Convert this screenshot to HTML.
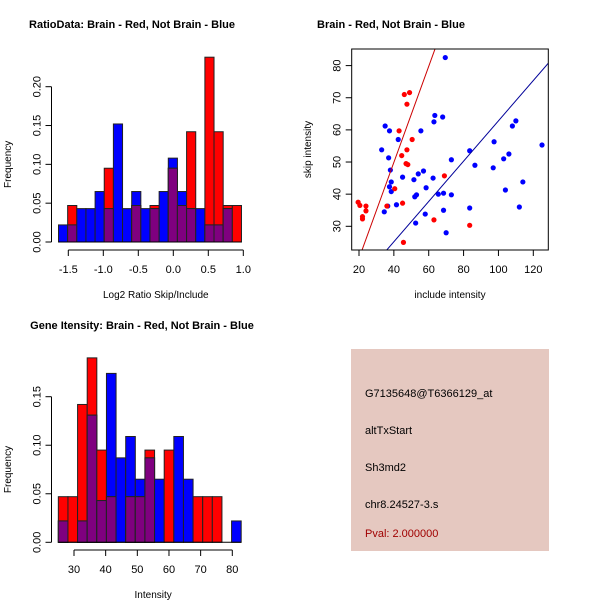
<!DOCTYPE html>
<html><head><meta charset="utf-8">
<style>
body{margin:0;background:#fff;}
svg{display:block;font-family:"Liberation Sans",sans-serif;}
</style></head>
<body>
<svg id="chart" width="600" height="600" viewBox="0 0 600 600">
<rect x="0" y="0" width="600" height="600" fill="#fff"/>
<g id="h1"></g>
<g id="sc"></g>
<g id="h2"></g>
<g>
<rect x="351" y="349" width="198" height="202" fill="#e5c8c0"/>
<text x="365" y="397" font-size="11" fill="#000">G7135648@T6366129_at</text>
<text x="365" y="434" font-size="11" fill="#000">altTxStart</text>
<text x="365" y="471" font-size="11" fill="#000">Sh3md2</text>
<text x="365" y="508" font-size="11" fill="#000">chr8.24527-3.s</text>
<text x="365" y="537" font-size="11" fill="#a00000">Pval: 2.000000</text>
</g>
</svg>
<script>
// Histogram 1: ratio data
const h1Start = -1.64, h1Width = 0.1307;
const h1Blue = [0.022,0.022,0.043,0.043,0.065,0.043,0.152,0.043,0.065,0.043,0.043,0.065,0.108,0.065,0.043,0.043,0.022,0.022,0.043,0];
const h1Red  = [0,0.047,0,0,0,0.095,0,0,0.047,0,0.047,0,0.095,0.047,0.142,0,0.238,0.142,0.047,0.047];
const h1XTicks = [-1.5,-1.0,-0.5,0.0,0.5,1.0];
const h1XLabels = ["-1.5","-1.0","-0.5","0.0","0.5","1.0"];
const h1YTicks = [0,0.05,0.10,0.15,0.20];
const h1YLabels = ["0.00","0.05","0.10","0.15","0.20"];
// Histogram 2: intensity
const h2Start = 25.05, h2Width = 3.04;
const h2Blue = [0.022,0,0.022,0.131,0.043,0.174,0.087,0.109,0.065,0.087,0.065,0,0.109,0.065,0,0,0,0,0.022];
const h2Red  = [0.047,0.047,0.142,0.19,0.095,0.047,0,0.047,0.047,0.095,0,0.095,0,0,0.047,0.047,0.047,0,0];
const h2XTicks = [30,40,50,60,70,80];
const h2XLabels = ["30","40","50","60","70","80"];
const h2YTicks = [0,0.05,0.10,0.15];
const h2YLabels = ["0.00","0.05","0.10","0.15"];
// Scatter
const redX = [19.5,20.5,22,22,24,24,36,40.5,43,44.5,45,45.5,46,47,47.5,47.5,48,49,50.5,63,69,83.5];
const redY = [37.5,36.5,33,32.3,36.3,34.8,36.3,41.7,59.7,52,37.2,25,71,49.5,68,53.8,49.2,71.6,57,32,45.7,30.3];
const blueX = [33,34.5,35,36.5,37,37.5,37.5,38,38.5,38.5,41.5,42.5,45,51.5,52,52.5,53,54,55.5,57,58,58.5,62.5,63,63.5,65.5,68,68.5,68.5,69.5,70,73,73,83.5,83.5,86.5,97,97.5,103,104,106,108,110,112,114,125];
const blueY = [53.8,34.5,61.2,36.3,51.3,59.7,42.3,47.5,43.8,40.8,36.7,57,45.3,44.5,39.2,31,39.8,46.3,59.7,47.2,33.8,42,45,62.5,64.5,40,64,40.3,35,82.5,28,50.7,39.8,53.5,35.7,49,48.2,56.3,51,41.3,52.5,61.2,62.8,36,43.8,55.3];
const fitSlopes = [1.494, 0.627];
const fitIntercepts = [-9.87, 0.11];
const scXTicks = [20,40,60,80,100,120];
const scYTicks = [30,40,50,60,70,80];

const NS = "http://www.w3.org/2000/svg";
function mk(parent, tag, attrs){
  const e = document.createElementNS(NS, tag);
  for (const k in attrs) e.setAttribute(k, attrs[k]);
  parent.appendChild(e);
  return e;
}

function histogram(g, start, width, blue, red, xT, xL, yT, yL, sx, sy, xAxisY, yAxisX, xlab, title, titleX, titleY, xlabY){
  const n = blue.length;
  for (let i=0;i<n;i++){
    const x0 = sx(start+i*width), x1 = sx(start+(i+1)*width);
    const pairs = [[blue[i],"#0000ff","blue"],[red[i],"#ff0000","red"]];
    pairs.sort((a,b)=>b[0]-a[0]);
    for (const p of pairs){
      if (p[0] <= 0) continue;
      const r = mk(g,"rect",{x:x0,y:sy(p[0]),width:x1-x0,height:sy(0)-sy(p[0]),fill:p[1],stroke:"#222","stroke-width":1});
      
      
    }
    const m = Math.min(blue[i], red[i]);
    if (m > 0){
      const r = mk(g,"rect",{x:x0,y:sy(m),width:x1-x0,height:sy(0)-sy(m),fill:"#7f007f",stroke:"#222","stroke-width":1});
      
      
    }
  }
  mk(g,"line",{x1:sx(start),x2:sx(start+n*width),y1:sy(0),y2:sy(0),stroke:"#000"});
  const xa = mk(g,"g",{});
  
  
  mk(xa,"line",{x1:sx(xT[0]),x2:sx(xT[xT.length-1]),y1:xAxisY,y2:xAxisY,stroke:"#000"});
  xT.forEach((t,i)=>{
    mk(xa,"line",{x1:sx(t),x2:sx(t),y1:xAxisY,y2:xAxisY+6,stroke:"#000"});
    const tx = mk(xa,"text",{x:sx(t),y:xAxisY+23,"font-size":11,"text-anchor":"middle"});
    tx.textContent = xL[i];
    
    
  });
  const ya = mk(g,"g",{});
  
  
  mk(ya,"line",{x1:yAxisX,x2:yAxisX,y1:sy(yT[0]),y2:sy(yT[yT.length-1]),stroke:"#000"});
  yT.forEach((t,i)=>{
    mk(ya,"line",{x1:yAxisX,x2:yAxisX-6,y1:sy(t),y2:sy(t),stroke:"#000"});
    const tx = mk(ya,"text",{x:0,y:0,"font-size":11,"text-anchor":"middle",transform:`translate(${yAxisX-11},${sy(t)}) rotate(-90)`});
    tx.textContent = yL[i];
    
    
  });
  const yl = mk(g,"text",{x:0,y:0,"font-size":10,"text-anchor":"middle",transform:`translate(11,${(sy(yT[0])+sy(yT[yT.length-1]))/2}) rotate(-90)`});
  yl.textContent = "Frequency";
  
  
  const xlb = mk(g,"text",{x:(sx(xT[0])+sx(xT[xT.length-1]))/2,y:xlabY,"font-size":10,"text-anchor":"middle"});
  xlb.textContent = xlab;
  
  
  const tt = mk(g,"text",{x:titleX,y:titleY,"font-size":11,"font-weight":"bold","text-anchor":"middle"});
  tt.textContent = title;
  
  
}

const s1x = v => 68.3 + (v+1.5)*70;
const s1y = v => 242 - v*(155.3/0.20);
histogram(document.getElementById("h1"), h1Start, h1Width, h1Blue, h1Red, h1XTicks, h1XLabels, h1YTicks, h1YLabels, s1x, s1y, 250, 51.5, "Log2 Ratio Skip/Include", "RatioData: Brain - Red, Not Brain - Blue", 132, 28, 298);

const s2x = v => 74 + (v-30)*3.166;
const s2y = v => 542.3 - v*(145.6/0.15);
histogram(document.getElementById("h2"), h2Start, h2Width, h2Blue, h2Red, h2XTicks, h2XLabels, h2YTicks, h2YLabels, s2x, s2y, 550, 51.5, "Intensity", "Gene Itensity: Brain - Red, Not Brain - Blue", 142, 329, 598);

(function(){
  const g = document.getElementById("sc");
  const L=351.7,R=548.3,T=49,B=250;
  const sx = v => 359 + (v-20)*1.743;
  const sy = v => 226.3 - (v-30)*3.214;
  const xmin=15.8,xmax=128.6;
  const clip = mk(g,"clipPath",{id:"scclip"});
  mk(clip,"rect",{x:L,y:T,width:R-L,height:B-T});
  const pts = mk(g,"g",{});
  
  
  blueX.forEach((x,i)=>{
    const c = mk(pts,"circle",{cx:sx(x),cy:sy(blueY[i]),r:2.6,fill:"#0000ff"});
    
    
  });
  redX.forEach((x,i)=>{
    const c = mk(pts,"circle",{cx:sx(x),cy:sy(redY[i]),r:2.6,fill:"#ff0000"});
    
    
  });
  const cols = ["#cc0000","#000099"], names=["fit-line-brain","fit-line-not-brain"];
  fitSlopes.forEach((m,i)=>{
    const b = fitIntercepts[i];
    const l = mk(g,"line",{x1:sx(xmin),y1:sy(m*xmin+b),x2:sx(xmax),y2:sy(m*xmax+b),stroke:cols[i],"stroke-width":1,"clip-path":"url(#scclip)"});
    
    
  });
  mk(g,"rect",{x:L,y:T,width:R-L,height:B-T,fill:"none",stroke:"#000"});
  scXTicks.forEach(t=>{
    mk(g,"line",{x1:sx(t),x2:sx(t),y1:B,y2:B+6,stroke:"#000"});
    const tx = mk(g,"text",{x:sx(t),y:B+23,"font-size":11,"text-anchor":"middle"});
    tx.textContent = t;
    
    
  });
  scYTicks.forEach(t=>{
    mk(g,"line",{x1:L,x2:L-6,y1:sy(t),y2:sy(t),stroke:"#000"});
    const tx = mk(g,"text",{x:0,y:0,"font-size":11,"text-anchor":"middle",transform:`translate(${L-11},${sy(t)}) rotate(-90)`});
    tx.textContent = t;
    
    
  });
  const xl = mk(g,"text",{x:(L+R)/2,y:298,"font-size":10,"text-anchor":"middle"});
  xl.textContent = "include intensity";
  
  
  const yl = mk(g,"text",{x:0,y:0,"font-size":10,"text-anchor":"middle",transform:`translate(311,${(T+B)/2}) rotate(-90)`});
  yl.textContent = "skip intensity";
  
  
  const tt = mk(g,"text",{x:391,y:28,"font-size":11,"font-weight":"bold","text-anchor":"middle"});
  tt.textContent = "Brain - Red, Not Brain - Blue";
  
  
})();
</script>
</body></html>
